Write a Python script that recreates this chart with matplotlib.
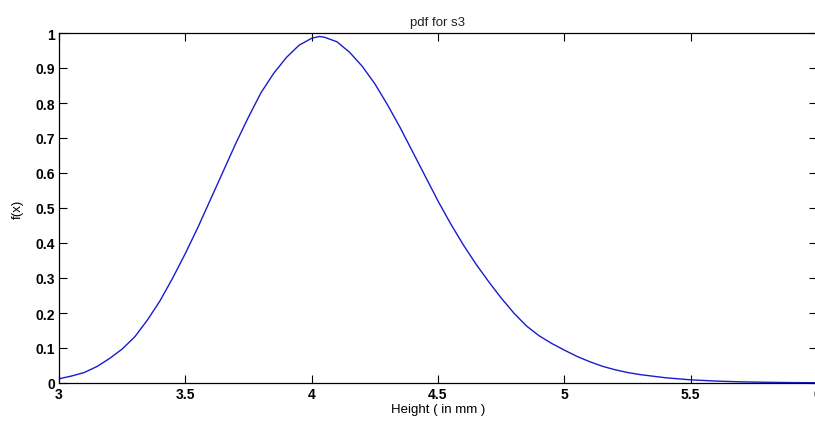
import matplotlib
matplotlib.use("Agg")
import matplotlib.pyplot as plt

# pdf values
height = [3.0, 3.05, 3.1, 3.15, 3.2, 3.25, 3.3, 3.35, 3.4, 3.45, 3.5, 3.55,
          3.6, 3.65, 3.7, 3.75, 3.8, 3.85, 3.9, 3.95, 4.0, 4.03, 4.05, 4.1,
          4.15, 4.2, 4.25, 4.3, 4.35, 4.4, 4.45, 4.5, 4.55, 4.6, 4.65, 4.7,
          4.75, 4.8, 4.85, 4.9, 4.95, 5.0, 5.05, 5.1, 5.15, 5.2, 5.25, 5.3,
          5.4, 5.5, 5.6, 5.7, 5.8, 5.9, 6.0]
fx = [0.012, 0.02, 0.03, 0.047, 0.07, 0.097, 0.132, 0.18, 0.235, 0.30, 0.37,
      0.445, 0.525, 0.605, 0.685, 0.76, 0.83, 0.885, 0.93, 0.965, 0.985, 0.99,
      0.988, 0.975, 0.945, 0.905, 0.855, 0.795, 0.73, 0.66, 0.59, 0.52, 0.455,
      0.395, 0.34, 0.29, 0.243, 0.20, 0.163, 0.135, 0.113, 0.094, 0.076,
      0.061, 0.048, 0.038, 0.03, 0.024, 0.015, 0.009, 0.0055, 0.0033, 0.002,
      0.0012, 0.0008]

xticks = [3, 3.5, 4, 4.5, 5, 5.5, 6]
xticklabels = ["3", "3.5", "4", "4.5", "5", "5.5", "6"]
yticks = [0, 0.1, 0.2, 0.3, 0.4, 0.5, 0.6, 0.7, 0.8, 0.9, 1]
yticklabels = ["0", "0.1", "0.2", "0.3", "0.4", "0.5", "0.6", "0.7", "0.8", "0.9", "1"]

plt.rcParams["font.family"] = ["Liberation Sans", "DejaVu Sans"]

W, H = 815, 427
fig = plt.figure(figsize=(W / 100, H / 100), dpi=100)
ax = fig.add_axes([59 / W, (H - 384) / H, (817 - 59) / W, 350 / H])

ax.plot(height, fx, color="#1a1ad0", linewidth=1.0)

ax.set_xlim(3, 6)
ax.set_ylim(0, 1)
ax.set_xticks(xticks)
ax.set_xticklabels(xticklabels, fontweight="bold", fontsize=10)
ax.set_yticks(yticks)
ax.set_yticklabels(yticklabels, fontweight="bold", fontsize=10)
ax.tick_params(direction="in", length=5.8, width=0.8, top=True, right=True,
               pad=3, colors="black")
for s in ax.spines.values():
    s.set_linewidth(0.9)

ax.set_title("pdf for s3", fontsize=9.5, pad=6, color="#222222")
ax.set_xlabel("Height ( in mm )", fontsize=9.5, labelpad=1)
ax.set_ylabel("f(x)", fontsize=9.5, labelpad=8)

fig.savefig("out.png", dpi=100)
